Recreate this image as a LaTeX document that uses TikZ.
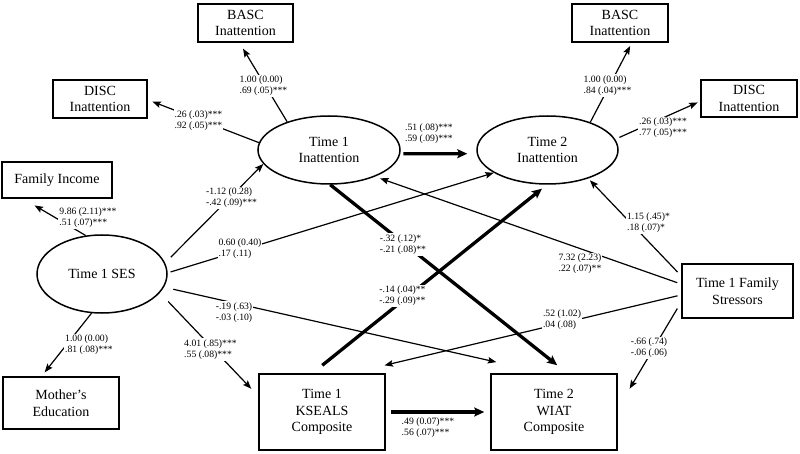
\documentclass[tikz,border=0pt]{standalone}
\usepackage{fontspec}
\setmainfont{Liberation Serif}
\usetikzlibrary{arrows.meta,shapes.geometric}
\begin{document}
\begin{tikzpicture}[x=1pt,y=-1pt,
  box/.style={draw,line width=1.5pt,inner sep=0pt,align=center,font=\fontsize{14}{16.8}\selectfont},
  oval/.style={draw,ellipse,line width=1.5pt,inner sep=0pt,align=center,font=\fontsize{14}{16.8}\selectfont},
  lbl/.style={fill=white,inner sep=1pt,align=left,font=\fontsize{9.7}{11.3}\selectfont},
  arr/.style={line width=1.2pt,-{Stealth[length=8.5pt,width=6.5pt,inset=1.5pt]}},
  tarr/.style={line width=3.3pt,-{Stealth[length=10pt,width=9pt,inset=2pt]}}]
\fill[white] (0,0) rectangle (800,454);
\useasboundingbox (0,0) rectangle (800,454);

% nodes
\node[box,minimum width=95pt,minimum height=38pt] (basc1) at (245.5,23) {BASC\\Inattention};
\node[box,minimum width=94pt,minimum height=38pt] (disc1) at (100,99) {DISC\\Inattention};
\node[box,minimum width=110pt,minimum height=36pt] (inc) at (57,180) {Family Income};
\node[oval,minimum width=142pt,minimum height=68pt] (t1i) at (329,150) {Time 1\\Inattention};
\node[oval,minimum width=141pt,minimum height=68pt] (t2i) at (547.5,150) {Time 2\\Inattention};
\node[box,minimum width=96pt,minimum height=38pt] (basc2) at (620,23) {BASC\\Inattention};
\node[box,minimum width=96pt,minimum height=37pt] (disc2) at (749,98.7) {DISC\\Inattention};
\node[oval,minimum width=130pt,minimum height=78pt] (ses) at (102,274) {Time 1 SES};
\node[box,minimum width=116pt,minimum height=52pt] (mom) at (61,403) {Mother’s\\Education};
\node[box,minimum width=126pt,minimum height=76pt] (ks) at (322,412) {Time 1\\KSEALS\\Composite};
\node[box,minimum width=126pt,minimum height=76pt] (wiat) at (554,412) {Time 2\\WIAT\\Composite};
\node[box,minimum width=111pt,minimum height=54pt] (fam) at (737.5,291) {Time 1 Family\\Stressors};

% connectors with labels
\draw[arr,shorten >=6.9pt] (t1i.146.6) -- (basc1.-107.5)
  node[lbl] (l1) at (263.5,86) {1.00 (0.00)\\.69 (.05)***};
\draw[arr,shorten >=5pt] (t1i.174.3) -- (disc1.-1.5)
  node[lbl] (l2) at (198.5,120.5) {.26 (.03)***\\.92 (.05)***};
\draw[arr,shorten >=13.2pt] (ses.113.4) -- (inc.-151.5)
  node[lbl] (l3) at (88,217.5) {9.86 (2.11)***\\.51 (.07)***};
\draw[arr,shorten >=5pt] (ses.-105.6) -- (mom.126.3)
  node[lbl] (l4) at (89,345) {1.00 (0.00)\\.81 (.08)***};
\draw[arr,shorten <=8pt] (ses.10.3) -- (t1i.-168.2)
  node[lbl] (l5) at (231.5,198) {-1.12 (0.28)\\-.42 (.09)***};
\draw[arr,shorten <=3pt] (ses.1) -- (t2i.-157.8)
  node[lbl] (l6) at (240,248.5) {0.60 (0.40)\\.17 (.11)};
\draw[arr,shorten <=9.5pt,shorten >=50.7pt] (ses.-12.9) -- (wiat.102.6)
  node[lbl] (l7) at (234,312.5) {-.19 (.63)\\-.03 (.10)};
\draw[arr,shorten <=12pt,shorten >=10.1pt] (ses.-18.8) -- (ks.166.8)
  node[lbl] (l8) at (210.5,349.5) {4.01 (.85)***\\.55 (.08)***};
\draw[tarr,shorten <=3pt,shorten >=9.4pt] (t1i.-3) -- (t2i.183)
  node[lbl] (l9) at (429,133.5) {.51 (.08)***\\.59 (.09)***};
\draw[tarr,shorten >=12.9pt] (t1i.-88) -- (wiat.71)
  node[lbl] (l10) at (403,244.5) {-.32 (.12)*\\-.21 (.08)**};
\draw[tarr,shorten <=12.7pt,shorten >=6.3pt] (ks.104.6) -- (t2i.-91)
  node[lbl] (l11) at (402.5,296) {-.14 (.04)**\\-.29 (.09)**};
\draw[tarr,shorten <=5pt,shorten >=6pt] (ks.east) -- (wiat.west)
  node[lbl] (l12) at (428,427.5) {.49 (0.07)***\\.56 (.07)***};
\draw[arr,shorten <=4.2pt,shorten >=5.2pt] (fam.173.2) -- (t1i.-30.2)
  node[lbl] (l13) at (580,264) {7.32 (2.23)\\.22 (.07)**};
\draw[arr,shorten <=5.3pt,shorten >=2.4pt] (fam.165.7) -- (t2i.-35.9)
  node[lbl] (l14) at (648.5,223) {1.15 (.45)*\\.18 (.07)*};
\draw[arr,shorten <=3.8pt,shorten >=34.2pt] (fam.-176.8) -- (ks.53.8)
  node[lbl] (l15) at (562,320) {.52 (1.02)\\.04 (.08)};
\draw[arr,shorten <=7.7pt,shorten >=23.2pt] (fam.-169.4) -- (wiat.3.8)
  node[lbl] (l16) at (649,348) {-.66 (.74)\\-.06 (.06)};
\draw[arr,shorten >=3.7pt] (t2i.33.5) -- (basc2.-59.9)
  node[lbl] (l17) at (607.5,85.5) {1.00 (0.00)\\.84 (.04)***};
\draw[arr,shorten <=4.5pt,shorten >=2.9pt] (t2i.9.6) -- (disc2.-177.9)
  node[lbl] (l18) at (663,128) {.26 (.03)***\\.77 (.05)***};
\end{tikzpicture}
\end{document}
